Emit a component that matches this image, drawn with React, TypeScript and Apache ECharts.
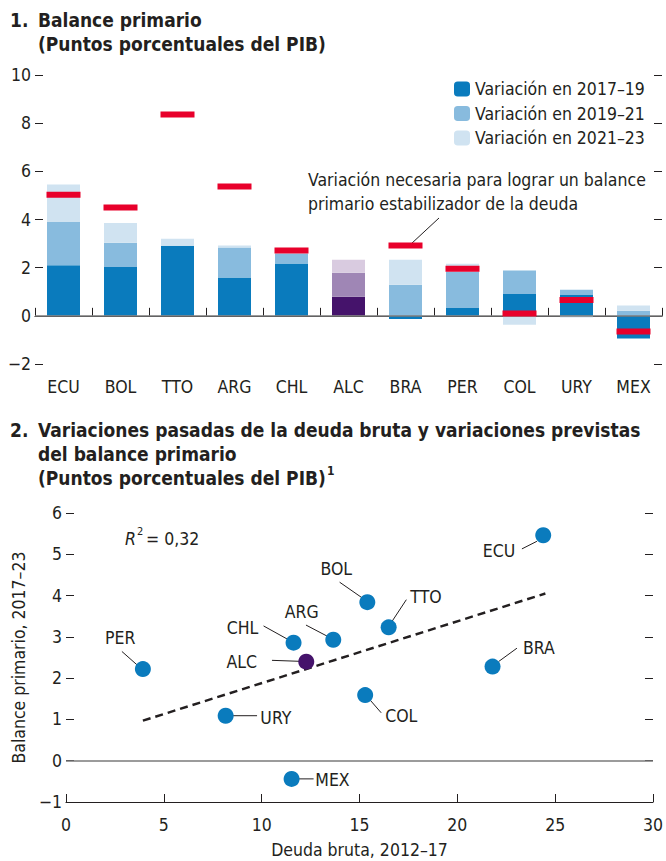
import React, { useEffect, useRef } from "react";
import * as echarts from "echarts";

// ---------- Panel 1 data ----------
const countries = ["ECU", "BOL", "TTO", "ARG", "CHL", "ALC", "BRA", "PER", "COL", "URY", "MEX"];
const change2017_19 = [2.1, 2.03, 2.91, 1.59, 2.17, 0.79, -0.13, 0.33, 0.91, 0.87, -0.94];
const change2019_21 = [1.8, 1.0, 0.0, 1.25, 0.42, 1.0, 1.29, 1.5, 0.97, 0.21, 0.21];
const change2021_23 = [1.55, 0.82, 0.29, 0.08, 0.1, 0.54, 1.04, 0.33, -0.37, -0.07, 0.22];
const requiredChange: (number | null)[] = [5.03, 4.5, 8.36, 5.37, 2.71, null, 2.92, 1.95, 0.1, 0.66, -0.65];
const legendNames = ["Variación en 2017–19", "Variación en 2019–21", "Variación en 2021–23"];
const yTicks1 = { min: -2, max: 10, interval: 2 };

// ---------- Panel 2 data ----------
const scatterNames = ["PER", "URY", "CHL", "ALC", "ARG", "MEX", "ECU", "BOL", "TTO", "BRA", "COL"];
const grossDebt = [3.93, 8.16, 11.63, 12.28, 13.66, 11.53, 24.39, 15.4, 16.49, 21.8, 15.29];
const primaryBalance = [2.22, 1.09, 2.86, 2.4, 2.93, -0.44, 5.46, 3.84, 3.23, 2.28, 1.59];
const trendLine = [[3.93, 0.97], [24.5, 4.05]];
const xTicks2 = { min: 0, max: 30, interval: 5 };
const yTicks2 = { min: -1, max: 6, interval: 1 };

// ---------- Styles ----------
const FONT = "'Liberation Sans Narrow', 'Arial Narrow', 'DejaVu Sans Condensed', sans-serif";
const INK = "#231f20";
const DARK = "#0a7bbd";
const MID = "#88bbde";
const LIGHT = "#d0e3f1";
const ALC_DARK = "#45136b";
const ALC_MID = "#9f86b5";
const ALC_LIGHT = "#d9cbe0";
const RED = "#e8002b";
const FS = 17.5;
const TFS = 19;

const minusFmt = (v: any) => String(v).replace("-", "−");

// label placement (pixel offsets from each point): text offset, alignment, leader line
const labelPlacement: Record<string, { t: [number, number]; a: string; l: [number, number, number, number] }> = {
  PER: { t: [-22.7, -31.3], a: "center", l: [-21, -17.6, -6, -4.3] },
  URY: { t: [34.7, 2.6], a: "left", l: [6.4, 0, 31.4, 0] },
  CHL: { t: [-35.3, -14.7], a: "right", l: [-30, -16.7, -6, -3.4] },
  ALC: { t: [-49.3, 0.7], a: "right", l: [-34.3, -1.3, -6, -0.3] },
  ARG: { t: [-31.6, -28], a: "center", l: [-27.3, -14.7, -5, -3] },
  MEX: { t: [23.7, 1], a: "left", l: [5.4, 0, 22, 0] },
  ECU: { t: [-28, 16], a: "right", l: [-21.3, 13.6, -6.3, 6] },
  BOL: { t: [-31, -32.7], a: "center", l: [-27.7, -20, -5.3, -4.4] },
  TTO: { t: [21.7, -30.4], a: "left", l: [17.7, -27.7, 3.4, -6] },
  BRA: { t: [30.4, -18.4], a: "left", l: [24.4, -18.4, 6, -5] },
  COL: { t: [20, 21], a: "left", l: [5, 5, 16, 17.7] },
};

export default function App() {
  const ref = useRef<HTMLDivElement>(null);
  useEffect(() => {
    if (!ref.current) return;
    const chart = echarts.init(ref.current, undefined, { renderer: "svg" });
    const alcIdx = countries.indexOf("ALC");
    const mk = (arr: number[], alcC: string) =>
      arr.map((v, i) => (i === alcIdx ? { value: v, itemStyle: { color: alcC } } : v));

    const textBase = { fontFamily: FONT, fontSize: FS, fill: INK };
    const titleBold = { fontFamily: FONT, fontSize: TFS, fontWeight: "bold", fill: INK };

    const yAxisCommon = (grid: number, t: { min: number; max: number; interval: number }, showLabel: boolean, pos: "left" | "right") => ({
      type: "value",
      gridIndex: grid,
      position: pos,
      min: t.min,
      max: t.max,
      interval: t.interval,
      axisLine: { show: false },
      axisTick: { show: true, inside: true, length: 8, lineStyle: { color: INK, width: 1 } },
      axisLabel: { show: showLabel, fontFamily: FONT, fontSize: FS, color: INK, margin: 4, formatter: minusFmt },
      splitLine: { show: false },
    });

    const option: any = {
      animation: false,
      textStyle: { fontFamily: FONT },
      grid: [
        { left: 35, right: 4, top: 75, bottom: 861 - 364 },
        { left: 66, right: 13, top: 513, bottom: 861 - 802 },
      ],
      legend: {
        left: 454,
        top: 80,
        padding: 0,
        orient: "vertical",
        itemWidth: 16,
        itemHeight: 15,
        itemGap: 6.5,
        selectedMode: false,
        data: legendNames,
        textStyle: { fontFamily: FONT, fontSize: FS, color: INK, lineHeight: 17 },
      },
      xAxis: [
        {
          type: "category",
          gridIndex: 0,
          data: countries,
          axisLine: { show: true, lineStyle: { color: INK, width: 1.2 } },
          axisTick: { show: true, inside: true, length: 8, lineStyle: { color: INK } },
          axisLabel: { fontFamily: FONT, fontSize: FS, color: INK, margin: 14 },
        },
        {
          type: "value",
          gridIndex: 1,
          min: xTicks2.min,
          max: xTicks2.max,
          interval: xTicks2.interval,
          axisLine: { show: true, onZero: false, lineStyle: { color: INK, width: 1.2 } },
          axisTick: { show: true, inside: true, length: 8, lineStyle: { color: INK } },
          axisLabel: { fontFamily: FONT, fontSize: FS, color: INK, margin: 14 },
          splitLine: { show: false },
          name: "Deuda bruta, 2012–17",
          nameLocation: "middle",
          nameGap: 39,
          nameTextStyle: { fontFamily: FONT, fontSize: FS, color: INK },
        },
      ],
      yAxis: [
        yAxisCommon(0, yTicks1, true, "left"),
        yAxisCommon(0, yTicks1, false, "right"),
        {
          ...yAxisCommon(1, yTicks2, true, "left"),
          name: "Balance primario, 2017–23",
          nameLocation: "middle",
          nameGap: 35,
          nameTextStyle: { fontFamily: FONT, fontSize: FS, color: INK },
        },
        yAxisCommon(1, yTicks2, false, "right"),
      ],
      series: [
        {
          name: legendNames[0],
          type: "bar",
          stack: "v",
          xAxisIndex: 0,
          yAxisIndex: 0,
          barWidth: 33,
          itemStyle: { color: DARK },
          data: mk(change2017_19, ALC_DARK),
          markLine: {
            silent: true,
            symbol: "none",
            label: { show: false },
            lineStyle: { color: "#7a7a7a", width: 1.5, type: "solid" },
            data: [{ yAxis: 0 }],
          },
        },
        {
          name: legendNames[1],
          type: "bar",
          stack: "v",
          xAxisIndex: 0,
          yAxisIndex: 0,
          barWidth: 33,
          itemStyle: { color: MID },
          data: mk(change2019_21, ALC_MID),
        },
        {
          name: legendNames[2],
          type: "bar",
          stack: "v",
          xAxisIndex: 0,
          yAxisIndex: 0,
          barWidth: 33,
          itemStyle: { color: LIGHT },
          data: mk(change2021_23, ALC_LIGHT),
        },
        {
          name: "req",
          type: "scatter",
          xAxisIndex: 0,
          yAxisIndex: 0,
          symbol: "rect",
          symbolSize: [34, 6],
          itemStyle: { color: RED, opacity: 1 },
          z: 5,
          data: requiredChange.map((v) => (v === null ? "-" : v)),
        },
        // panel 2: leader lines + labels
        {
          type: "custom",
          xAxisIndex: 1,
          yAxisIndex: 2,
          z: 1,
          data: scatterNames.map((n, i) => [grossDebt[i], primaryBalance[i], i]),
          renderItem: (params: any, api: any) => {
            const p = api.coord([api.value(0), api.value(1)]);
            const name = scatterNames[api.value(2)];
            const L = labelPlacement[name];
            return {
              type: "group",
              children: [
                {
                  type: "line",
                  shape: { x1: p[0] + L.l[0], y1: p[1] + L.l[1], x2: p[0] + L.l[2], y2: p[1] + L.l[3] },
                  style: { stroke: INK, lineWidth: 1 },
                },
                {
                  type: "text",
                  x: p[0] + L.t[0],
                  y: p[1] + L.t[1],
                  style: { text: name, align: L.a, verticalAlign: "middle", ...textBase },
                },
              ],
            };
          },
        },
        {
          type: "line",
          xAxisIndex: 1,
          yAxisIndex: 2,
          symbol: "none",
          z: 2,
          lineStyle: { color: INK, width: 2.5, type: [8, 5] },
          data: trendLine,
          markLine: {
            silent: true,
            symbol: "none",
            label: { show: false },
            lineStyle: { color: "#7a7a7a", width: 1.5, type: "solid" },
            data: [{ yAxis: 0 }],
          },
        },
        {
          type: "scatter",
          xAxisIndex: 1,
          yAxisIndex: 2,
          symbolSize: 16,
          z: 3,
          itemStyle: { color: DARK, opacity: 1 },
          data: scatterNames.map((n, i) =>
            n === "ALC"
              ? { value: [grossDebt[i], primaryBalance[i]], itemStyle: { color: ALC_DARK } }
              : [grossDebt[i], primaryBalance[i]]
          ),
        },
      ],
      graphic: [
        { type: "text", left: 10, top: 10, style: { text: "1.", ...titleBold } },
        { type: "text", left: 38, top: 10, style: { text: "Balance primario", ...titleBold } },
        { type: "text", left: 38, top: 34, style: { text: "(Puntos porcentuales del PIB)", ...titleBold } },
        { type: "text", left: 10, top: 420, style: { text: "2.", ...titleBold } },
        { type: "text", left: 38, top: 420, style: { text: "Variaciones pasadas de la deuda bruta y variaciones previstas", ...titleBold } },
        { type: "text", left: 38, top: 444, style: { text: "del balance primario", ...titleBold } },
        { type: "text", left: 38, top: 468, style: { text: "(Puntos porcentuales del PIB)", ...titleBold } },
        { type: "text", left: 327, top: 465, style: { text: "1", fontFamily: FONT, fontSize: 12, fontWeight: "bold", fill: INK } },
        { type: "text", left: 308, top: 171, style: { text: "Variación necesaria para lograr un balance", ...textBase } },
        { type: "text", left: 308, top: 195, style: { text: "primario estabilizador de la deuda", ...textBase } },
        { type: "line", shape: { x1: 439, y1: 218, x2: 411, y2: 244 }, style: { stroke: INK, lineWidth: 1 } },
        { type: "text", left: 125, top: 530, style: { text: "R", fontStyle: "italic", ...textBase } },
        { type: "text", left: 137, top: 526, style: { text: "2", fontFamily: FONT, fontSize: 11, fill: INK } },
        { type: "text", left: 146, top: 530, style: { text: "= 0,32", ...textBase } },
      ],
    };
    chart.setOption(option);
    return () => chart.dispose();
  }, []);
  return (
    <div
      ref={ref}
      style={{ position: "absolute", left: 0, top: 0, width: 666, height: 861, background: "#fff" }}
    />
  );
}
